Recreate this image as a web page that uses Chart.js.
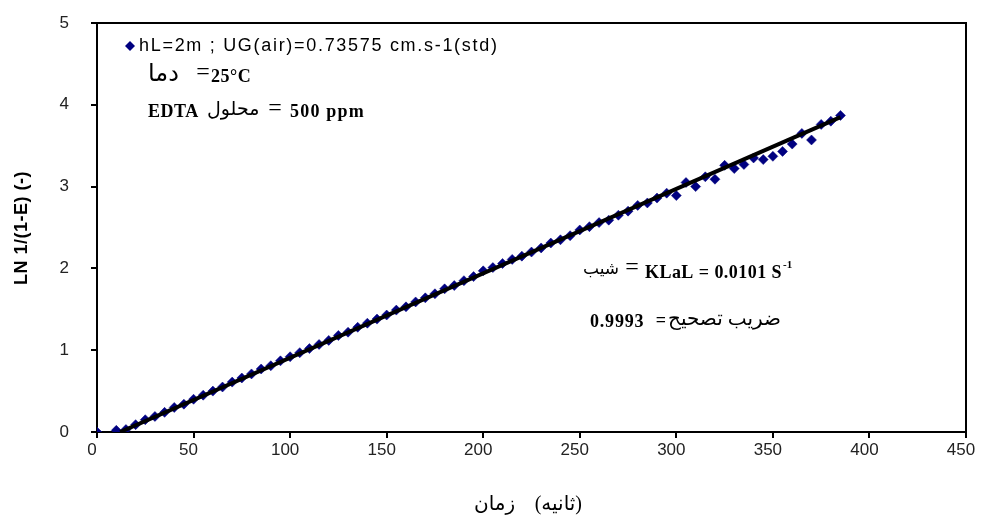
<!DOCTYPE html>
<html><head><meta charset="utf-8">
<script src="https://cdn.jsdelivr.net/npm/chart.js@4/dist/chart.umd.min.js"></script>
<style>html,body{margin:0;padding:0;background:#fff;}#wrap{width:993px;height:528px;}</style>
</head><body><div id="wrap"><canvas id="c" width="993" height="528"></canvas></div>
<script>
// time (s)
const times = [0,10,15,20,25,30,35,40,45,50,55,60,65,70,75,80,85,90,95,100,
  105,110,115,120,125,130,135,140,145,150,155,160,165,170,175,180,185,190,195,200,
  205,210,215,220,225,230,235,240,245,250,255,260,265,270,275,280,285,290,295,300,
  305,310,315,320,325,330,335,340,345,350,355,360,365,370,375,380,385];
// LN 1/(1-E)
const lnValues = [0,0.02,0.03,0.09,0.15,0.19,0.24,0.30,0.34,0.40,0.45,0.50,0.55,0.61,0.66,0.71,0.77,0.81,0.87,0.92,
  0.97,1.02,1.07,1.12,1.18,1.22,1.28,1.33,1.38,1.43,1.49,1.53,1.59,1.64,1.69,1.75,1.79,1.85,1.90,1.97,
  2.01,2.06,2.11,2.15,2.20,2.25,2.31,2.35,2.40,2.47,2.51,2.56,2.59,2.65,2.70,2.77,2.80,2.86,2.92,2.89,
  3.05,3.00,3.12,3.09,3.26,3.22,3.27,3.35,3.33,3.37,3.43,3.52,3.65,3.57,3.76,3.80,3.87];
// fitted line end points
const fitTimes = [12, 385];
const fitValues = [0.0, 3.85];
const xTickValues = [0,50,100,150,200,250,300,350,400,450];
const yTickValues = [0,1,2,3,4,5];
const seriesLabel = 'hL=2m ; UG(air)=0.73575 cm.s-1(std)';
const xTitleWord = 'زمان';
const xTitleUnit = '(ثانیه)';
const yTitle = 'LN 1/(1-E) (-)';

const NAVY = '#000080';
const SERIF = '"Liberation Serif","DejaVu Serif","DejaVu Sans",serif';
const SANS = '"Liberation Sans",Arial,sans-serif';

const decor = {
  id: 'decor',
  afterDraw(chart) {
    const ctx = chart.ctx, a = chart.chartArea;
    ctx.save();
    ctx.strokeStyle = '#000'; ctx.lineWidth = 2;
    ctx.beginPath();
    ctx.moveTo(a.left, a.top); ctx.lineTo(a.right, a.top); ctx.lineTo(a.right, a.bottom);
    ctx.stroke();
    ctx.direction = 'ltr';
    ctx.textBaseline = 'middle';
    // legend
    ctx.fillStyle = NAVY;
    ctx.beginPath();
    ctx.moveTo(130, 41); ctx.lineTo(135, 46); ctx.lineTo(130, 51); ctx.lineTo(125, 46); ctx.closePath();
    ctx.fill();
    ctx.fillStyle = '#000';
    const put = (t, x, y, f, align, ls) => {
      ctx.font = f; ctx.textAlign = align || 'left'; ctx.letterSpacing = (ls || 0) + 'px'; ctx.fillText(t, x, y);
    };
    put(seriesLabel, 139, 46, '18px ' + SANS, 'left', 1.7);
    // annotations
    put('دما', 148, 75, '24px ' + SERIF);
    put('=', 203, 73, '24px ' + SERIF, 'center');
    put('25°C', 211, 77, 'bold 18px ' + SERIF, 'left', 0.5);
    put('EDTA', 148, 112, 'bold 18px ' + SERIF, 'left', 0.5);
    put('محلول', 207, 110, '19px ' + SERIF);
    put('=', 275, 109, '24px ' + SERIF, 'center');
    put('500 ppm', 290, 112, 'bold 18px ' + SERIF, 'left', 1.2);

    put('شیب', 583, 270, '17px ' + SERIF);
    put('=', 632, 268, '24px ' + SERIF, 'center');
    put('KLaL = 0.0101 S', 645, 273, 'bold 18px ' + SERIF, 'left', 0.45);
    put('-1', 783, 265, 'bold 11px ' + SERIF);
    put('0.9993', 590, 322, 'bold 18px ' + SERIF, 'left', 0.8);
    put('=', 661, 321, 'bold 18px ' + SERIF, 'center');
    ctx.direction = 'rtl';
    put('ضریب تصحیح', 781, 320, '20px ' + SERIF, 'right');
    // x title
    put(xTitleUnit, 582, 505, '20px ' + SERIF, 'right');
    put(xTitleWord, 474, 505, '20px ' + SERIF, 'left');
    ctx.direction = 'ltr';
    ctx.translate(22, 228); ctx.rotate(-Math.PI / 2);
    put(yTitle, 0, 0, 'bold 18px ' + SANS, 'center', 0.5);
    ctx.restore();
  }
};

new Chart(document.getElementById('c'), {
  type: 'scatter',
  data: {
    datasets: [
      { label: 'fit', data: fitTimes.map((t, i) => ({x: t, y: fitValues[i]})), showLine: true,
        borderColor: '#000', borderWidth: 4, pointRadius: 0, order: 0 },
      { label: seriesLabel, data: times.map((t, i) => ({x: t, y: lnValues[i]})),
        pointStyle: 'rectRot', pointRadius: 5, backgroundColor: NAVY, borderColor: NAVY, borderWidth: 0.5, order: 1 }
    ]
  },
  options: {
    responsive: false, animation: false, devicePixelRatio: 1,
    layout: { autoPadding: false, padding: { top: 23, right: 27, left: 0, bottom: 0 } },
    plugins: { legend: { display: false }, tooltip: { enabled: false } },
    scales: {
      x: {
        type: 'linear', min: 0, max: 450,
        afterBuildTicks: s => { s.ticks = xTickValues.map(v => ({ value: v })); },
        afterFit: s => { s.height = 96; s.paddingLeft = 0; s.paddingRight = 0; },
        ticks: { color: '#222', font: { family: SANS, size: 17 }, padding: 2, maxRotation: 0, labelOffset: -5 },
        grid: { drawOnChartArea: false, drawTicks: true, tickLength: 6, color: '#000', lineWidth: 2 },
        border: { display: true, color: '#000', width: 2 }
      },
      y: {
        min: 0, max: 5,
        afterBuildTicks: s => { s.ticks = yTickValues.map(v => ({ value: v })); },
        afterFit: s => { s.width = 97; s.paddingTop = 0; s.paddingBottom = 0; },
        ticks: { color: '#222', font: { family: SANS, size: 17 }, padding: 22 },
        grid: { drawOnChartArea: false, drawTicks: true, tickLength: 6, color: '#000', lineWidth: 2 },
        border: { display: true, color: '#000', width: 2 }
      }
    }
  },
  plugins: [decor]
});
</script></body></html>
